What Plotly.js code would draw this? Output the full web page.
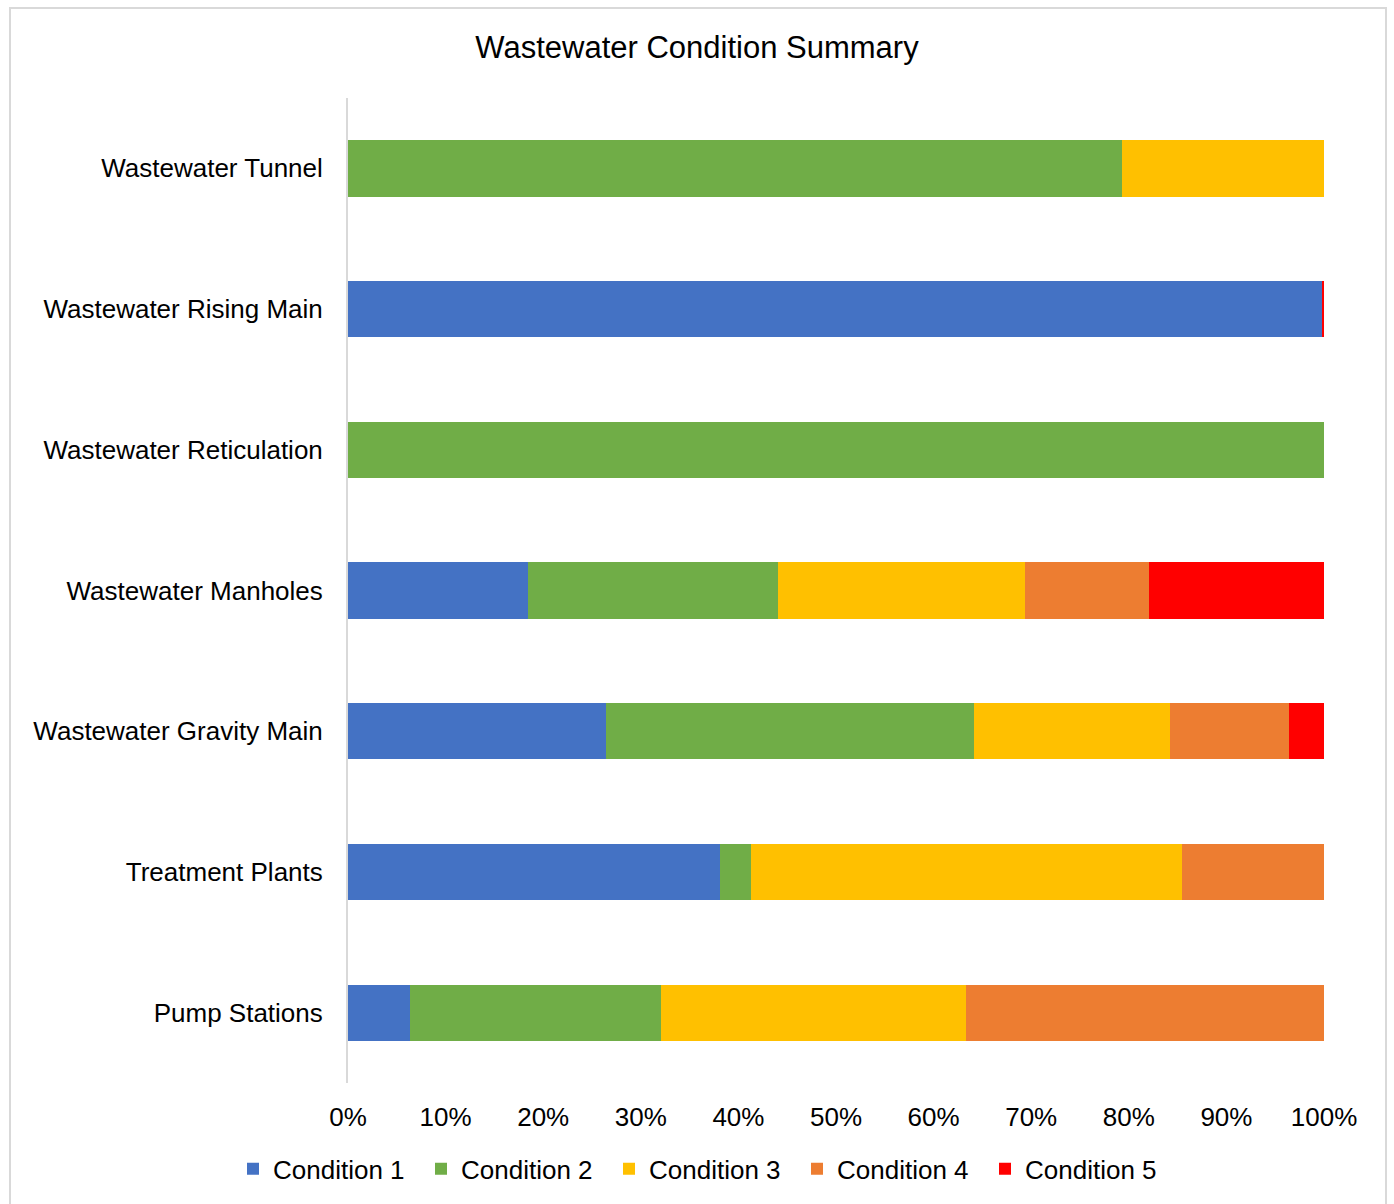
<!DOCTYPE html>
<html>
<head>
<meta charset="utf-8">
<script src="https://cdn.plot.ly/plotly-3.0.1.min.js"></script>
<style>
  html, body { margin: 0; padding: 0; background: #fff; overflow: hidden; }
  #chart { width: 1394px; height: 1204px; position: absolute; left: 0; top: 0; }
  #frame { position: absolute; left: 9px; top: 7px; width: 1378px; height: 1230px;
           border: 2px solid #d9d9d9; pointer-events: none; box-sizing: border-box; }
</style>
</head>
<body>
<div id="chart"></div>
<div id="frame"></div>
<script>
const categories = [
  "Wastewater Tunnel",
  "Wastewater Rising Main",
  "Wastewater Reticulation",
  "Wastewater Manholes",
  "Wastewater Gravity Main",
  "Treatment Plants",
  "Pump Stations"
];
const seriesNames = ["Condition 1", "Condition 2", "Condition 3", "Condition 4", "Condition 5"];
const condition1 = [0, 99.8, 0, 18.4, 26.4, 38.1, 6.4];
const condition2 = [79.3, 0, 100, 25.7, 37.7, 3.2, 25.7];
const condition3 = [20.7, 0, 0, 25.3, 20.1, 44.1, 31.2];
const condition4 = [0, 0, 0, 12.7, 12.2, 14.6, 36.7];
const condition5 = [0, 0.2, 0, 17.9, 3.6, 0, 0];
const xTickValues = [0, 10, 20, 30, 40, 50, 60, 70, 80, 90, 100];

const seriesValues = [condition1, condition2, condition3, condition4, condition5];
const colors = ["#4472C4", "#70AD47", "#FFC000", "#ED7D31", "#FF0000"];

const traces = seriesValues.map((vals, i) => ({
  type: "bar",
  orientation: "h",
  name: seriesNames[i],
  y: categories,
  x: vals,
  marker: { color: colors[i], line: { width: 0 } },
  hoverinfo: "skip"
}));

const font = "Liberation Sans, Arial, sans-serif";

const layout = {
  width: 1394,
  height: 1204,
  paper_bgcolor: "#ffffff",
  plot_bgcolor: "#ffffff",
  margin: { l: 348, r: 70, t: 98, b: 119 },
  barmode: "stack",
  bargap: 0.6,
  font: { family: font, size: 26, color: "#000000" },
  title: {
    text: "Wastewater Condition Summary",
    font: { family: font, size: 31, color: "#000000" },
    x: 0.5, xref: "container", xanchor: "center",
    y: 1 - 47 / 1204, yref: "container", yanchor: "middle"
  },
  xaxis: {
    range: [0, 100],
    tickvals: xTickValues,
    ticktext: xTickValues.map(v => v + "%"),
    tickangle: 0,
    automargin: false,
    showgrid: false,
    zeroline: false,
    showline: false,
    ticks: "",
    ticklabelstandoff: 16,
    tickfont: { family: font, size: 26, color: "#000000" },
    fixedrange: true
  },
  yaxis: {
    type: "category",
    autorange: "reversed",
    automargin: false,
    showgrid: false,
    zeroline: false,
    showline: true,
    linecolor: "#d9d9d9",
    linewidth: 2,
    ticks: "",
    ticklabelstandoff: 18,
    tickfont: { family: font, size: 26, color: "#000000" },
    fixedrange: true
  },
  showlegend: true,
  legend: {
    orientation: "h",
    x: (703 - 348) / 976, xanchor: "center",
    y: (1085 - 1171) / 987, yanchor: "middle",
    traceorder: "normal",
    itemwidth: 30,
    entrywidth: 143,
    entrywidthmode: "pixels",
    font: { family: font, size: 26, color: "#000000" },
    bgcolor: "rgba(0,0,0,0)"
  }
};

Plotly.newPlot("chart", traces, layout, { staticPlot: true, displayModeBar: false });
</script>
</body>
</html>
